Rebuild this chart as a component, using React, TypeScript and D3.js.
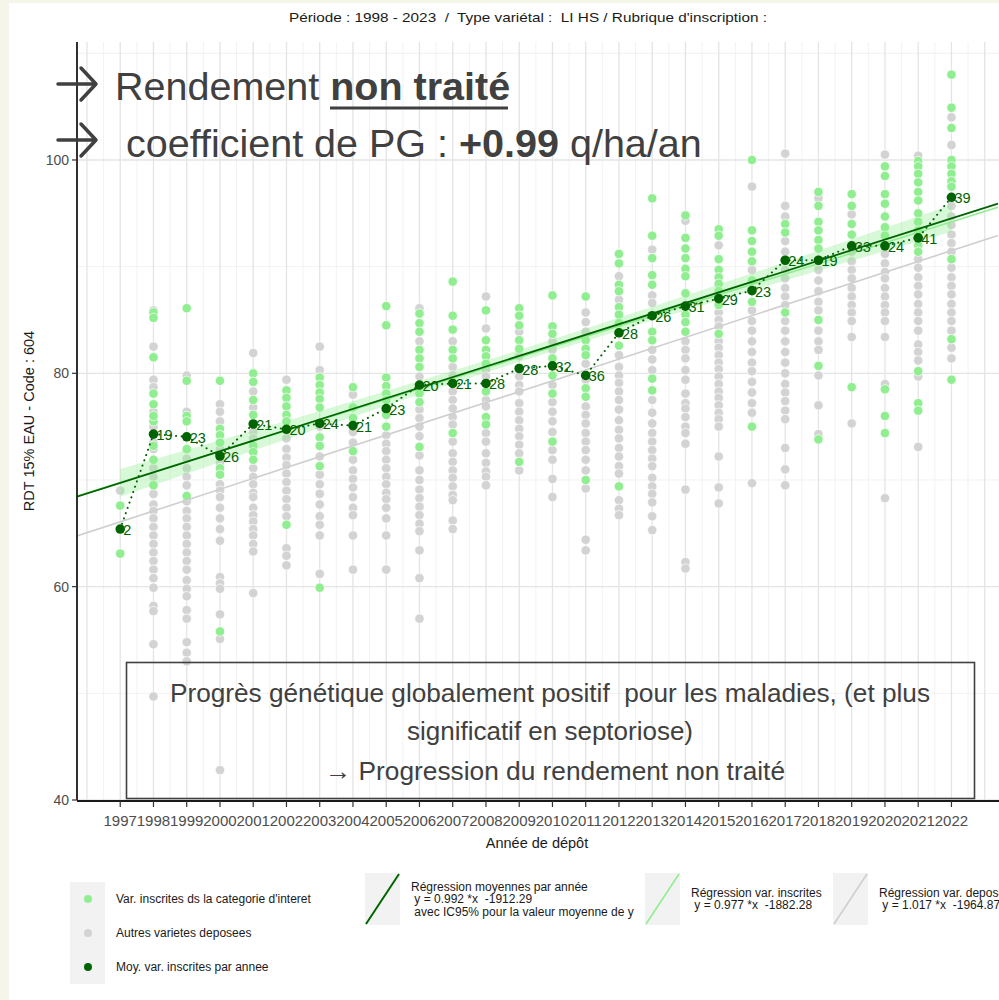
import React from "react";
import * as d3 from "d3";

// ---------- DATA ----------
const years = [1997, 1998, 1999, 2000, 2001, 2002, 2003, 2004, 2005, 2006, 2007, 2008, 2009, 2010, 2011, 2012, 2013, 2014, 2015, 2016, 2017, 2018, 2019, 2020, 2021, 2022];

const meanValues = [65.4, 74.3, 74.05, 72.25, 75.25, 74.75, 75.3, 75.1, 76.7, 78.9, 79.05, 79.05, 80.45, 80.7, 79.8, 83.8, 85.4, 86.3, 87.0, 87.75, 90.6, 90.6, 91.95, 91.95, 92.7, 96.5];
const meanCounts = [2, 19, 23, 26, 21, 20, 24, 21, 23, 20, 21, 28, 28, 32, 36, 28, 26, 31, 29, 23, 24, 19, 33, 24, 41, 39];

const greenValues: number[][] = [
  [67.6, 63.1],
  [85.7, 85.2, 81.5, 78.1, 77.1, 75.5, 71.9, 69.5, 73.2, 76.0],
  [86.1, 79.3, 76.0, 75.5, 72.9, 68.5],
  [79.3, 74.8, 74.2, 73.5, 71.1, 70.5, 55.8],
  [80.0, 79.2, 77.5, 76.1, 73.2, 72.6, 71.9],
  [78.4, 77.7, 76.9, 76.1, 75.5, 65.8],
  [79.6, 78.9, 78.2, 77.6, 76.8, 74.0, 73.2, 71.3, 59.9],
  [78.7, 76.8, 75.8, 72.7],
  [86.3, 84.5, 79.6, 78.8, 78.1, 77.5, 76.1, 75.0],
  [85.6, 84.7, 83.9, 82.2, 81.4, 80.6, 78.1, 77.3, 73.1],
  [88.6, 85.4, 84.1, 82.2, 81.4, 74.4],
  [85.9, 83.1, 82.2, 81.6, 80.9, 78.3, 75.9, 75.2],
  [86.1, 85.4, 84.5, 83.1, 82.3, 80.5, 71.7],
  [87.3, 84.4, 83.7, 81.4, 79.8, 78.1, 73.6],
  [87.2, 83.1, 82.3, 81.7, 78.6, 77.8, 70.0],
  [91.2, 90.3, 88.3, 87.7, 86.2, 85.5, 84.7, 82.6, 69.4],
  [96.4, 92.9, 90.8, 89.2, 88.3, 83.9, 83.1, 79.5, 78.4],
  [94.8, 92.7, 91.7, 90.8, 89.8, 89.1, 87.5, 85.5, 84.8, 83.9],
  [93.5, 92.9, 90.7, 89.7, 89.0, 88.4, 87.7, 86.4, 83.7],
  [100.0, 93.4, 92.4, 91.4, 90.5, 88.7, 86.7, 75.0],
  [94.0, 93.2, 85.7],
  [97.0, 95.7, 94.2, 93.4, 92.5, 91.7, 85.0, 80.7, 73.8],
  [96.8, 95.7, 94.0, 93.0, 78.7],
  [99.4, 98.5, 96.8, 95.9, 94.7, 93.7, 92.9, 78.5, 76.0, 74.4],
  [99.9, 99.4, 98.7, 97.9, 97.0, 96.2, 95.0, 94.2, 93.4, 92.0, 91.4, 80.2, 77.2, 76.5],
  [108.0, 104.9, 103.0, 100.0, 99.4, 98.7, 98.0, 97.5, 90.7, 83.2, 79.4],
];

const grayValues: number[][] = [
  [69.0],
  [85.9, 82.5, 79.4, 78.7, 76.4, 75.0, 73.5, 72.9, 71.1, 70.3, 68.7, 67.7, 67.1, 66.4, 65.6, 64.8, 64.0, 63.2, 62.4, 61.6, 60.8, 59.9, 58.2, 57.7, 54.6, 49.7],
  [79.8, 76.4, 72.0, 71.1, 70.3, 69.5, 68.0, 67.1, 66.4, 65.6, 64.8, 64.0, 63.2, 62.4, 61.6, 60.6, 59.8, 59.1, 57.8, 57.0, 54.8, 53.8, 53.0],
  [77.1, 76.4, 75.5, 72.9, 71.6, 69.6, 69.0, 68.4, 67.4, 66.4, 65.4, 64.3, 60.9, 60.3, 59.8, 57.4, 55.1, 42.8],
  [81.9, 78.3, 76.8, 74.5, 73.9, 71.1, 70.3, 69.6, 68.8, 68.4, 67.4, 66.7, 66.1, 65.4, 64.8, 64.0, 63.3, 59.4],
  [79.4, 73.9, 72.9, 72.1, 71.4, 70.6, 69.8, 69.0, 68.2, 67.4, 66.6, 63.6, 62.9, 62.0],
  [82.5, 80.3, 75.0, 72.2, 70.5, 69.6, 68.7, 67.7, 66.6, 65.8, 64.8, 61.2],
  [78.0, 74.5, 73.5, 71.9, 70.9, 70.1, 69.3, 68.4, 67.4, 66.7, 64.8, 61.6],
  [74.2, 73.4, 72.7, 71.9, 71.1, 70.3, 69.6, 68.8, 68.2, 67.4, 66.4, 64.8, 61.6],
  [86.1, 83.0, 79.7, 76.6, 75.8, 75.0, 74.1, 72.3, 70.9, 70.0, 69.1, 68.3, 67.5, 66.7, 65.9, 65.2, 63.4, 60.8, 57.0],
  [83.0, 80.6, 79.8, 78.3, 77.5, 76.7, 75.9, 75.2, 73.6, 72.5, 71.7, 70.9, 70.2, 69.4, 68.6, 68.1, 66.2, 65.4],
  [87.2, 84.2, 80.3, 79.7, 77.5, 76.9, 74.4, 73.6, 72.5, 71.6, 70.8, 70.3, 69.5],
  [83.9, 81.6, 79.7, 78.9, 78.3, 77.2, 76.4, 75.6, 74.8, 74.1, 73.3, 72.5, 70.9],
  [83.0, 82.2, 78.9, 77.3, 76.4, 75.5, 74.5, 72.8, 71.9, 70.1, 68.4],
  [85.7, 84.8, 83.9, 80.9, 79.4, 76.9, 76.1, 75.3, 74.4, 73.6, 72.8, 71.9, 70.9, 69.2, 64.4, 63.4],
  [89.1, 86.9, 83.8, 81.7, 80.6, 79.8, 79.1, 78.3, 77.5, 76.6, 75.6, 74.7, 73.9, 73.0, 72.2, 71.3, 70.6, 68.1, 67.3, 66.7],
  [91.6, 87.3, 86.6, 82.2, 81.3, 80.3, 77.5, 76.3, 75.3, 74.4, 73.6, 72.8, 72.0, 71.3, 70.2, 69.4, 68.7, 67.9, 66.6, 65.3],
  [94.3, 83.0, 82.2, 81.4, 80.3, 79.4, 78.1, 77.2, 76.7, 75.9, 75.0, 74.4, 73.4, 69.1, 62.3, 61.7],
  [92.0, 85.7, 85.0, 84.4, 83.0, 82.4, 81.7, 81.0, 80.4, 79.7, 79.0, 78.3, 77.7, 77.0, 76.3, 75.7, 75.0, 72.2, 69.3, 67.8],
  [97.5, 89.7, 85.9, 84.9, 84.0, 83.0, 82.0, 81.0, 80.2, 79.2, 78.2, 77.2, 76.3, 69.7],
  [100.6, 95.7, 94.7, 92.4, 91.4, 89.7, 88.9, 88.0, 87.2, 86.4, 84.9, 84.0, 83.0, 82.0, 81.0, 80.0, 79.0, 78.2, 77.4, 76.5, 75.7, 73.0, 71.0, 69.5],
  [96.4, 89.7, 88.7, 87.7, 86.7, 85.9, 84.0, 83.0, 82.2, 79.8, 77.0, 74.3],
  [94.9, 91.4, 90.5, 89.7, 88.9, 88.0, 87.2, 86.4, 85.7, 84.9, 83.4, 75.3],
  [100.5, 91.2, 90.3, 89.5, 88.9, 88.0, 87.2, 86.4, 85.7, 84.9, 83.4, 79.0, 68.3],
  [100.4, 90.7, 89.9, 89.0, 88.2, 87.4, 86.5, 85.7, 84.9, 84.0, 82.7, 82.0, 81.2, 79.7, 73.1],
  [104.0, 101.4, 95.7, 94.7, 93.9, 93.0, 92.2, 91.4, 89.9, 89.0, 88.2, 87.4, 86.5, 85.7, 84.9, 84.0, 82.4, 81.4],
];

// regression lines (x = year + shift)
const regDeposees = { slope: 1.017, intercept: -1964.87, shift: 0 };
const regInscrites = { slope: 0.977, intercept: -1882.28, shift: 1 };
const regMoyennes = { slope: 0.992, intercept: -1912.29, shift: 1 };

// IC95% ribbon half widths
const ciYears = [1997, 2003, 2009.5, 2016, 2022];
const ciHalf = [1.3, 0.8, 0.55, 0.8, 1.25];

const yTicks = [40, 60, 80, 100];

const titleText = "Période : 1998 - 2023  /  Type variétal :  LI HS / Rubrique d'inscription :";
const boxLines = [
  "Progrès génétique globalement positif  pour les maladies, (et plus",
  "significatif en septoriose)",
  "→ Progression du rendement non traité",
];
const pointLegend = [
  "Var. inscrites ds la categorie d'interet",
  "Autres varietes deposees",
  "Moy. var. inscrites par annee",
];
const lineLegend1 = ["Régression moyennes par année", " y = 0.992 *x  -1912.29", " avec IC95% pour la valeur moyenne de y"];
const lineLegend2 = ["Régression var. inscrites", " y = 0.977 *x  -1882.28"];
const lineLegend3 = ["Régression var. deposees", " y = 1.017 *x  -1964.87"];

// ---------- STYLE ----------
const GREEN = "#90EE90";
const GRAY = "#D3D3D3";
const DARK = "#006400";
const FONT = "'Liberation Sans', Arial, sans-serif";

export default function App() {
  const W = 999, H = 1000;
  const L = 77, R = 998, T = 42, B = 800;
  const x = d3.scaleLinear().domain([1995.7, 2023.4]).range([L, R]);
  const y = d3.scaleLinear().domain([40, 111.06]).range([B, T]);

  const [d0, d1] = x.domain();
  const regLine = (r: { slope: number; intercept: number; shift: number }) =>
    d3.line<number>().x((v) => x(v)).y((v) => y(r.slope * (v + r.shift) + r.intercept))([d0, d1]) as string;

  const ribbon = d3
    .area<number>()
    .x((_, i) => x(ciYears[i]))
    .y0((yr, i) => y(regMoyennes.slope * (yr + regMoyennes.shift) + regMoyennes.intercept - ciHalf[i]))
    .y1((yr, i) => y(regMoyennes.slope * (yr + regMoyennes.shift) + regMoyennes.intercept + ciHalf[i]))
    .curve(d3.curveMonotoneX)(ciYears) as string;

  const meanPath = d3
    .line<number>()
    .x((_, i) => x(years[i]))
    .y((v) => y(v))(meanValues) as string;

  const majorX = d3.range(1996, 2024, 1).filter((v) => v >= d0 && v <= d1);
  const minorX = d3.range(1995.5, 2024, 1).filter((v) => v >= d0 && v <= d1);
  const majorY = [40, 60, 80, 100];
  const minorY = [50, 70, 90, 110];

  return (
    <svg width={W} height={H} style={{ position: "absolute", left: 0, top: 0, fontFamily: FONT }}>
      <defs>
        <clipPath id="panel">
          <rect x={L} y={T} width={W - L} height={B - T} />
        </clipPath>
      </defs>
      <rect x={0} y={0} width={W} height={H} fill="#f6f5ea" />
      <rect x={9} y={3} width={W - 9} height={H - 3} fill="#ffffff" />

      {/* title */}
      <text x={289} y={22} fontSize={13.5} fill="#1a1a1a" textLength={478} lengthAdjust="spacingAndGlyphs" style={{ whiteSpace: "pre" }}>
        {titleText}
      </text>

      {/* grid */}
      <g clipPath="url(#panel)">
        {minorX.map((v) => (
          <line key={"mx" + v} x1={x(v)} x2={x(v)} y1={T} y2={B} stroke="#f0f0f0" strokeWidth={0.9} />
        ))}
        {minorY.map((v) => (
          <line key={"my" + v} x1={L} x2={W} y1={y(v)} y2={y(v)} stroke="#f0f0f0" strokeWidth={0.9} />
        ))}
        {majorX.map((v) => (
          <line key={"Mx" + v} x1={x(v)} x2={x(v)} y1={T} y2={B} stroke="#e4e4e4" strokeWidth={1.3} />
        ))}
        {majorY.map((v) => (
          <line key={"My" + v} x1={L} x2={W} y1={y(v)} y2={y(v)} stroke="#e4e4e4" strokeWidth={1.3} />
        ))}
      </g>

      {/* points */}
      <g clipPath="url(#panel)">
        {years.map((yr, i) =>
          grayValues[i].map((v, j) => (
            <circle key={"g" + yr + "-" + j} cx={x(yr)} cy={y(v)} r={4.7} fill={GRAY} stroke="#fff" strokeWidth={0.7} />
          ))
        )}
        {years.map((yr, i) =>
          greenValues[i].map((v, j) => (
            <circle key={"v" + yr + "-" + j} cx={x(yr)} cy={y(v)} r={4.7} fill={GREEN} stroke="#fff" strokeWidth={0.7} />
          ))
        )}

        {/* regressions */}
        <path d={regLine(regDeposees)} stroke="#cfcfcf" strokeWidth={1.6} fill="none" />
        <path d={ribbon} fill={GREEN} fillOpacity={0.35} stroke="none" />
        <path d={regLine(regInscrites)} stroke={GREEN} strokeWidth={1.6} fill="none" />
        <path d={regLine(regMoyennes)} stroke={DARK} strokeWidth={1.8} fill="none" />

        {/* means */}
        <path d={meanPath} stroke={DARK} strokeWidth={2} fill="none" strokeDasharray="0.1 5.5" strokeLinecap="round" />
        {years.map((yr, i) => (
          <circle key={"m" + yr} cx={x(yr)} cy={y(meanValues[i])} r={4.8} fill={DARK} />
        ))}
        {years.map((yr, i) => (
          <text key={"t" + yr} x={x(yr) + 3} y={y(meanValues[i]) + 6} fontSize={14.5} fill={DARK}>
            {meanCounts[i]}
          </text>
        ))}
      </g>

      {/* axes */}
      <line x1={L} x2={L} y1={T} y2={B} stroke="#1a1a1a" strokeWidth={1.8} />
      <line x1={L} x2={W} y1={B + 1} y2={B + 1} stroke="#1a1a1a" strokeWidth={2} />
      {yTicks.map((v) => (
        <g key={"yt" + v}>
          <line x1={L - 5} x2={L} y1={y(v)} y2={y(v)} stroke="#333" strokeWidth={1.2} />
          <text x={L - 8} y={y(v) + 5} textAnchor="end" fontSize={14} fill="#4d4d4d">
            {v}
          </text>
        </g>
      ))}
      {years.map((yr) => (
        <g key={"xt" + yr}>
          <line x1={x(yr)} x2={x(yr)} y1={B + 1} y2={B + 7} stroke="#333" strokeWidth={1.2} />
          <text x={x(yr)} y={826} textAnchor="middle" fontSize={15} fill="#4d4d4d">
            {yr}
          </text>
        </g>
      ))}
      <text x={537} y={848} textAnchor="middle" fontSize={14.5} fill="#1a1a1a">
        Année de dépôt
      </text>
      <text transform="translate(34,421) rotate(-90)" textAnchor="middle" fontSize={14.5} fill="#1a1a1a">
        RDT 15% EAU - Code : 604
      </text>

      {/* big annotations */}
      <g stroke="#404040" strokeWidth={3.5} fill="none" strokeLinecap="round" strokeLinejoin="round">
        <path d="M58,84 L96,84 M81,68 L96,84 L81,100" />
        <path d="M58,140 L96,140 M81,124 L96,140 L81,156" />
      </g>
      <text x={115} y={100} fontSize={39.5} fill="#404040" style={{ whiteSpace: "pre" }}>
        Rendement <tspan fontWeight="bold">non traité</tspan>
      </text>
      <line x1={330} x2={508} y1={108} y2={108} stroke="#404040" strokeWidth={3} />
      <text x={126} y={157} fontSize={39.5} fill="#404040" style={{ whiteSpace: "pre" }}>
        coefficient de PG : <tspan fontWeight="bold">+0.99</tspan> q/ha/an
      </text>

      {/* text box */}
      <rect x={126.5} y={662.5} width={848} height={136} fill="none" stroke="#404040" strokeWidth={1.6} />
      <text x={170} y={702} fontSize={25.5} fill="#404040" textLength={760} lengthAdjust="spacingAndGlyphs" style={{ whiteSpace: "pre" }}>
        {boxLines[0]}
      </text>
      <text x={407} y={740} fontSize={25.5} fill="#404040" textLength={286} lengthAdjust="spacingAndGlyphs">
        {boxLines[1]}
      </text>
      <text x={325} y={780} fontSize={25.5} fill="#404040" textLength={460} lengthAdjust="spacingAndGlyphs">
        {boxLines[2]}
      </text>

      {/* legend: points */}
      <rect x={70} y={882} width={35} height={102} fill="#f2f2f2" />
      {[GREEN, GRAY, DARK].map((c, i) => (
        <g key={"lp" + i}>
          <circle cx={88} cy={899 + i * 34} r={4} fill={c} />
          <text x={116} y={903 + i * 34} fontSize={12} fill="#1a1a1a">
            {pointLegend[i]}
          </text>
        </g>
      ))}

      {/* legend: lines */}
      {[
        { kx: 365, color: DARK, w: 2, lines: lineLegend1 },
        { kx: 645, color: GREEN, w: 1.6, lines: lineLegend2 },
        { kx: 833, color: "#cfcfcf", w: 1.6, lines: lineLegend3 },
      ].map((k, i) => (
        <g key={"ll" + i}>
          <rect x={k.kx} y={873} width={35} height={52} fill="#f2f2f2" />
          <line x1={k.kx + 1} y1={924} x2={k.kx + 34} y2={874} stroke={k.color} strokeWidth={k.w} />
          {k.lines.map((s, j) => (
            <text
              key={j}
              x={k.kx + 46}
              y={899 + 4 + (j - (k.lines.length - 1) / 2) * 12.5}
              fontSize={12}
              fill="#1a1a1a"
              style={{ whiteSpace: "pre" }}
            >
              {s}
            </text>
          ))}
        </g>
      ))}
    </svg>
  );
}
